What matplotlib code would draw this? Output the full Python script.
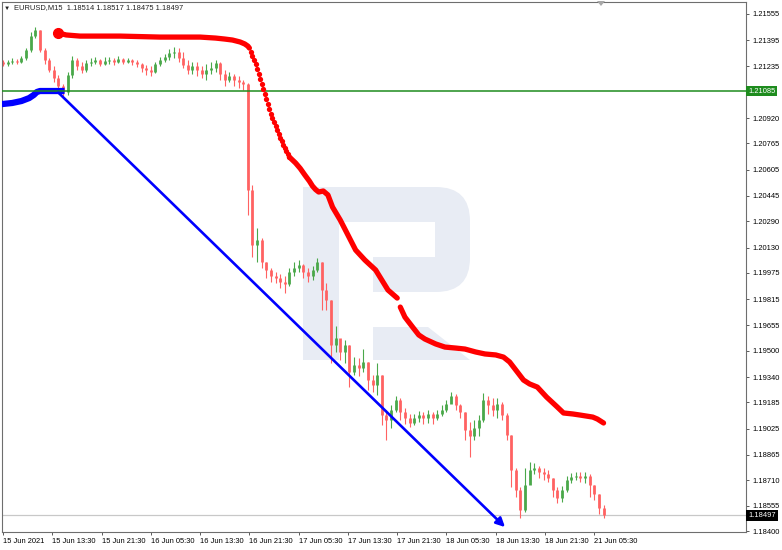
# EURUSD M15 chart, MT4 style
import numpy as np
import matplotlib.pyplot as plt
from matplotlib.patches import Rectangle, Polygon, FancyBboxPatch
from matplotlib.transforms import Affine2D

plt.rcParams['font.family'] = ['Liberation Sans', 'DejaVu Sans']
FS = 5.4

# -------------------------------
# Data
# -------------------------------
bar_step = 3  # one candle drawn per 3 M15 bars
first_open = 1.21262
closes = [1.21250, 1.21262, 1.21268, 1.21262, 1.21286, 1.21335, 1.21420, 1.21457, 1.21335, 1.21274,
          1.21213, 1.21164, 1.21115, 1.21079, 1.21183, 1.21274, 1.21237, 1.21213, 1.21256, 1.21262,
          1.21274, 1.21250, 1.21268, 1.21274, 1.21262, 1.21280, 1.21262, 1.21274, 1.21262, 1.21250,
          1.21225, 1.21213, 1.21201, 1.21250, 1.21274, 1.21292, 1.21317, 1.21323, 1.21286, 1.21244,
          1.21213, 1.21237, 1.21213, 1.21189, 1.21213, 1.21225, 1.21256, 1.21189, 1.21152, 1.21176,
          1.21152, 1.21140, 1.21128, 1.20481, 1.20146, 1.20176, 1.20042, 1.19993, 1.19956, 1.19944,
          1.19920, 1.19908, 1.19981, 1.20005, 1.20024, 1.19981, 1.19956, 1.19993, 1.20042, 1.19871,
          1.19810, 1.19536, 1.19578, 1.19493, 1.19536, 1.19371, 1.19414, 1.19395, 1.19432, 1.19322,
          1.19292, 1.19353, 1.19108, 1.19078, 1.19139, 1.19200, 1.19127, 1.19090, 1.19060, 1.19090,
          1.19108, 1.19090, 1.19115, 1.19090, 1.19115, 1.19139, 1.19176, 1.19224, 1.19170, 1.19127,
          1.19017, 1.18980, 1.19029, 1.19078, 1.19200, 1.19170, 1.19139, 1.19176, 1.19108, 1.18987,
          1.18773, 1.18651, 1.18529, 1.18682, 1.18773, 1.18785, 1.18761, 1.18749, 1.18724, 1.18651,
          1.18602, 1.18651, 1.18712, 1.18730, 1.18736, 1.18724, 1.18736, 1.18682, 1.18627, 1.18541,
          1.18497]
highs = [1.21274, 1.21274, 1.21286, 1.21280, 1.21298, 1.21347, 1.21445, 1.21475, 1.21457, 1.21347,
         1.21286, 1.21237, 1.21183, 1.21128, 1.21201, 1.21298, 1.21286, 1.21262, 1.21274, 1.21286,
         1.21292, 1.21280, 1.21292, 1.21292, 1.21286, 1.21298, 1.21286, 1.21286, 1.21280, 1.21274,
         1.21256, 1.21244, 1.21237, 1.21262, 1.21292, 1.21311, 1.21341, 1.21353, 1.21347, 1.21323,
         1.21274, 1.21262, 1.21262, 1.21237, 1.21250, 1.21262, 1.21274, 1.21262, 1.21213, 1.21201,
         1.21189, 1.21176, 1.21152, 1.21134, 1.20512, 1.20249, 1.20188, 1.20042, 1.20005, 1.19981,
         1.19969, 1.19956, 1.20005, 1.20042, 1.20054, 1.20030, 1.20005, 1.20017, 1.20066, 1.20042,
         1.19914, 1.19810, 1.19653, 1.19566, 1.19566, 1.19536, 1.19462, 1.19456, 1.19512, 1.19432,
         1.19353, 1.19426, 1.19353, 1.19139, 1.19170, 1.19224, 1.19212, 1.19151, 1.19115, 1.19115,
         1.19133, 1.19127, 1.19139, 1.19127, 1.19139, 1.19170, 1.19200, 1.19249, 1.19237, 1.19176,
         1.19127, 1.19066, 1.19078, 1.19108, 1.19243, 1.19224, 1.19212, 1.19212, 1.19188, 1.19121,
         1.18987, 1.18785, 1.18672, 1.18785, 1.18822, 1.18816, 1.18797, 1.18785, 1.18773, 1.18724,
         1.18672, 1.18675, 1.18736, 1.18755, 1.18761, 1.18761, 1.18761, 1.18749, 1.18682, 1.18627,
         1.18560]
lows = [1.21237, 1.21237, 1.21250, 1.21250, 1.21256, 1.21274, 1.21323, 1.21408, 1.21323, 1.21250,
        1.21201, 1.21140, 1.21079, 1.21042, 1.21061, 1.21164, 1.21213, 1.21195, 1.21201, 1.21237,
        1.21250, 1.21237, 1.21244, 1.21250, 1.21244, 1.21256, 1.21250, 1.21256, 1.21244, 1.21231,
        1.21201, 1.21183, 1.21176, 1.21195, 1.21237, 1.21262, 1.21274, 1.21286, 1.21262, 1.21225,
        1.21189, 1.21189, 1.21176, 1.21164, 1.21152, 1.21189, 1.21201, 1.21152, 1.21115, 1.21140,
        1.21115, 1.21103, 1.21091, 1.20328, 1.20073, 1.20042, 1.20005, 1.19944, 1.19920, 1.19914,
        1.19883, 1.19853, 1.19895, 1.19956, 1.19981, 1.19944, 1.19920, 1.19932, 1.19981, 1.19749,
        1.19749, 1.19426, 1.19493, 1.19444, 1.19426, 1.19279, 1.19353, 1.19346, 1.19371, 1.19261,
        1.19249, 1.19231, 1.19047, 1.18956, 1.19029, 1.19127, 1.19078, 1.19054, 1.19035, 1.19047,
        1.19066, 1.19054, 1.19060, 1.19054, 1.19078, 1.19102, 1.19127, 1.19182, 1.19139, 1.19090,
        1.18956, 1.18853, 1.18956, 1.18980, 1.19066, 1.19115, 1.19102, 1.19090, 1.19078, 1.18956,
        1.18669, 1.18608, 1.18480, 1.18517, 1.18700, 1.18749, 1.18724, 1.18712, 1.18700, 1.18608,
        1.18573, 1.18578, 1.18639, 1.18694, 1.18712, 1.18700, 1.18694, 1.18608, 1.18590, 1.18505,
        1.18480]

# red moving average (bar index, price): flat part, steep dotted part, then two more pieces
ma_a_bars = [36, 41, 50, 76, 102, 128, 138, 144, 149, 154, 157, 159, 160]
ma_a = [1.21439, 1.21427, 1.21420, 1.21420, 1.21414, 1.21414, 1.21408, 1.21402, 1.21396,
        1.21384, 1.21372, 1.21359, 1.21347]
ma_dot_bars = list(range(161, 187))
ma_dot = [1.21323, 1.21298, 1.21274, 1.21250, 1.21219, 1.21189, 1.21158, 1.21128, 1.21097,
          1.21067, 1.21036, 1.21006, 1.20975, 1.20945, 1.20920, 1.20896, 1.20871, 1.20847,
          1.20823, 1.20798, 1.20780, 1.20756, 1.20737, 1.20719, 1.20701, 1.20682]
ma_b_bars = [186, 190, 193, 196, 199, 201, 203, 205, 208, 211, 214, 219, 223, 229, 235, 242,
             246, 250, 256]
ma_b = [1.20682, 1.20646, 1.20613, 1.20573, 1.20535, 1.20505, 1.20484, 1.20469, 1.20475,
        1.20451, 1.20377, 1.20298, 1.20225, 1.20115, 1.20054, 1.19993, 1.19932, 1.19871, 1.19822]
ma_c_bars = [258, 261, 266, 270, 274, 281, 287, 294, 300, 307, 313, 320, 325, 329, 334, 338,
             342, 347, 353, 360, 364, 370, 375, 383, 386, 390]
ma_c = [1.19767, 1.19706, 1.19645, 1.19597, 1.19572, 1.19542, 1.19523, 1.19517, 1.19511,
        1.19493, 1.19481, 1.19475, 1.19462, 1.19432, 1.19371, 1.19322, 1.19298, 1.19279,
        1.19218, 1.19157, 1.19121, 1.19115, 1.19108, 1.19096, 1.19084, 1.19060]

# blue moving average on the left
blue_bars = [-2, 0, 6, 12, 17, 20, 22, 24, 40]
blue_ma = [1.21006, 1.21006, 1.21012, 1.21024, 1.21042, 1.21061, 1.21079, 1.21085, 1.21085]

# trend line
trend_start = (36, 1.21075)
trend_end = (326, 1.18425)

level_green = 1.21085
last_price = 1.18497
header = "EURUSD,M15  1.18514 1.18517 1.18475 1.18497"

y_ticks = [1.21555, 1.21395, 1.21235, 1.20920, 1.20765, 1.20605, 1.20445, 1.20290, 1.20130,
           1.19975, 1.19815, 1.19655, 1.19500, 1.19340, 1.19185, 1.19025, 1.18865, 1.18710,
           1.18555, 1.18400]
x_tick_bars = [0, 32, 64, 96, 128, 160, 192, 224, 256, 288, 320, 352, 384]
x_tick_labels = ["15 Jun 2021", "15 Jun 13:30", "15 Jun 21:30", "16 Jun 05:30", "16 Jun 13:30",
                 "16 Jun 21:30", "17 Jun 05:30", "17 Jun 13:30", "17 Jun 21:30", "18 Jun 05:30",
                 "18 Jun 13:30", "18 Jun 21:30", "21 Jun 05:30"]

# -------------------------------
# Figure
# -------------------------------
W, H = 782, 550
fig = plt.figure(figsize=(W / 100, H / 100), dpi=100)
ax = fig.add_axes([2 / W, 1 - 532 / H, 744 / W, 530 / H])
px = Affine2D().scale(1 / 100, -1 / 100).translate(0, H / 100) + fig.dpi_scale_trans

ax.set_xlim(-0.65, 482.5)
ax.set_ylim(1.18395, 1.21628)

# watermark "R"
wm = '#e8ecf4'
for p in [Rectangle((303, 187), 36, 173),
          FancyBboxPatch((303, 187), 167, 105, boxstyle="round,pad=0,rounding_size=34"),
          Rectangle((303, 187), 80, 105),
          Polygon([(373, 327), (428, 327), (470, 360), (373, 360)])]:
    p.set_facecolor(wm); p.set_edgecolor('none'); p.set_transform(px); p.set_zorder(0.5)
    ax.add_patch(p)
for p in [Rectangle((339, 222), 96, 35), Rectangle((339, 257), 34, 35)]:
    p.set_facecolor('white'); p.set_edgecolor('none'); p.set_transform(px); p.set_zorder(0.6)
    ax.add_patch(p)

# candles
x = np.arange(len(closes)) * bar_step
opens = [first_open] + closes[:-1]
cols = ['#4aa84a' if c >= o else '#ff6262' for o, c in zip(opens, closes)]
ax.vlines(x, lows, highs, colors=cols, lw=0.8, zorder=2)
ax.vlines(x, opens, closes, colors=cols, lw=2.0, zorder=2)

# levels
ax.axhline(last_price, color='#c8c8c8', lw=0.9, zorder=1)

# blue MA
ax.plot(blue_bars, blue_ma, color='#0000ff', lw=4.5, solid_capstyle='butt', zorder=3)
ax.axhline(level_green, color='#1e8c1e', lw=1.1, zorder=4)

# red MA
red = '#ff0000'
ax.plot(ma_a_bars, ma_a, color=red, lw=3.8, solid_capstyle='round', zorder=5)
ax.plot(ma_a_bars[0], ma_a[0], 'o', color=red, ms=7, zorder=5)
ax.plot(ma_dot_bars, ma_dot, 'o', color=red, ms=3.8, mec='none', zorder=5)
ax.plot(ma_b_bars, ma_b, color=red, lw=3.8, solid_capstyle='round', solid_joinstyle='round', zorder=5)
ax.plot(ma_c_bars, ma_c, color=red, lw=3.8, solid_capstyle='round', solid_joinstyle='round', zorder=5)

# trend line with arrow
ax.annotate('', xy=trend_end, xytext=trend_start,
            arrowprops=dict(arrowstyle='-|>', color='#0000ff', lw=1.9, mutation_scale=13,
                            shrinkA=0, shrinkB=0), zorder=6)

# axes styling
for s in ax.spines.values():
    s.set_color('#6e6e6e'); s.set_linewidth(0.8)
ax.yaxis.tick_right()
ax.set_yticks(y_ticks)
ax.set_yticklabels([f"{v:.5f}" for v in y_ticks])
ax.set_xticks(x_tick_bars)
ax.set_xticklabels(x_tick_labels, ha='left')
ax.tick_params(axis='both', labelsize=FS, length=2.5, width=0.6, color='#404040', pad=2)

# price boxes on the right
ytr = ax.get_yaxis_transform()
ax.text(1.003, level_green, f"{level_green:.5f}", transform=ytr, fontsize=FS, color='white',
        va='center', ha='left', zorder=10, clip_on=False,
        bbox=dict(boxstyle='square,pad=0.25', fc='#1e8c1e', ec='none'))
ax.text(1.003, last_price, f"{last_price:.5f}", transform=ytr, fontsize=FS, color='white',
        va='center', ha='left', zorder=10, clip_on=False,
        bbox=dict(boxstyle='square,pad=0.25', fc='black', ec='none'))

# header
ax.text(4, 8, "\u25bc", transform=px, fontsize=4.5, va='center', ha='left', color='#202020')
ax.text(14, 8, header, transform=px, fontsize=FS, va='center', ha='left', color='#202020')
ax.add_patch(Polygon([(597, 1), (605, 1), (601, 6)], closed=True, transform=px,
                     fc='#a8a8a8', ec='none', clip_on=False, zorder=10))

fig.savefig("out.png", dpi=100)
